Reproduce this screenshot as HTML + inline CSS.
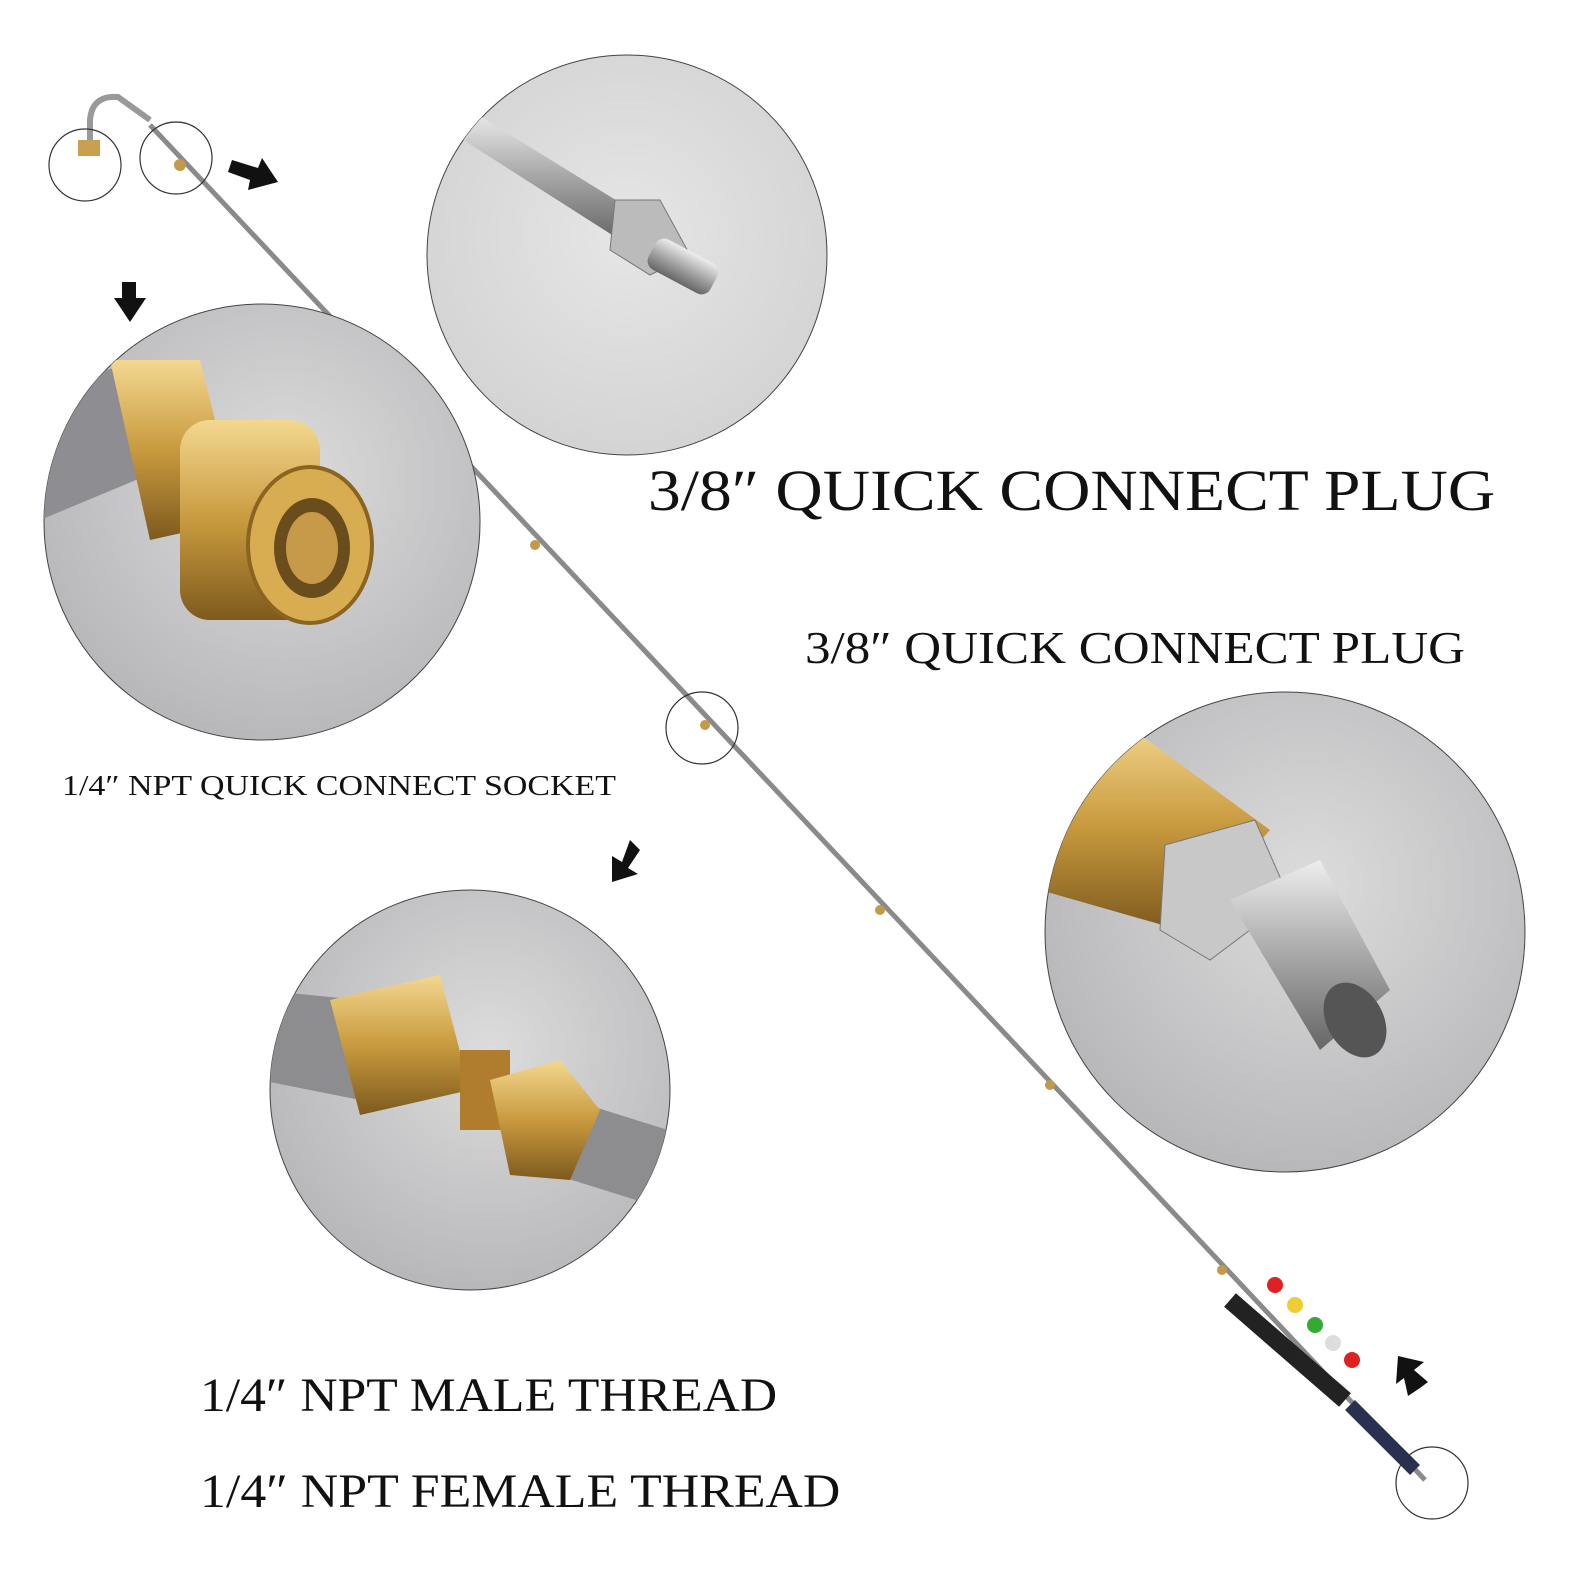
<!DOCTYPE html>
<html><head><meta charset="utf-8"><style>
html,body{margin:0;padding:0;background:#fff;}
body{width:1582px;height:1582px;position:relative;overflow:hidden;font-family:"Liberation Serif",serif;}
.t{position:absolute;white-space:nowrap;color:#111;line-height:1;transform-origin:0 0;}
</style></head><body>
<svg width="1582" height="1582" style="position:absolute;left:0;top:0">
<defs>
<radialGradient id="g1" cx="50%" cy="45%" r="60%"><stop offset="0" stop-color="#e6e6e6"/><stop offset="1" stop-color="#d2d2d2"/></radialGradient>
<radialGradient id="g2" cx="55%" cy="40%" r="60%"><stop offset="0" stop-color="#dcdcdc"/><stop offset="1" stop-color="#b8b8bb"/></radialGradient>
<linearGradient id="brass" x1="0" y1="0" x2="0" y2="1"><stop offset="0" stop-color="#f3d890"/><stop offset=".5" stop-color="#c99a3e"/><stop offset="1" stop-color="#7d5a1e"/></linearGradient>
<linearGradient id="steel" x1="0" y1="0" x2="0" y2="1"><stop offset="0" stop-color="#eee"/><stop offset=".5" stop-color="#a8a8a8"/><stop offset="1" stop-color="#666"/></linearGradient>
</defs>
<path d="M90 150 L90 120 Q92 95 118 97 L150 120" stroke="#999" stroke-width="6" fill="none"/>
<line x1="150" y1="125" x2="1425" y2="1480" stroke="#8a8a8a" stroke-width="5"/>
<rect x="78" y="140" width="22" height="16" fill="#c8a050"/>
<g fill="#c39a4a"><circle cx="180" cy="165" r="6"/><circle cx="535" cy="545" r="5"/><circle cx="705" cy="725" r="5"/><circle cx="880" cy="910" r="5"/><circle cx="1050" cy="1085" r="5"/><circle cx="1222" cy="1270" r="5"/></g>
<line x1="1230" y1="1300" x2="1345" y2="1400" stroke="#222" stroke-width="18"/>
<line x1="1350" y1="1405" x2="1415" y2="1470" stroke="#2a3050" stroke-width="14"/>
<circle cx="1275" cy="1285" r="8" fill="#d22"/><circle cx="1295" cy="1305" r="8" fill="#ec3"/><circle cx="1315" cy="1325" r="8" fill="#3a3"/><circle cx="1333" cy="1343" r="8" fill="#ddd"/><circle cx="1352" cy="1360" r="8" fill="#d22"/>
<g fill="none" stroke="#333" stroke-width="1.2">
<circle cx="85" cy="165" r="36"/><circle cx="176" cy="158" r="36"/><circle cx="702" cy="728" r="36"/><circle cx="1432" cy="1483" r="36"/></g>
<circle cx="627" cy="255" r="200" fill="url(#g1)" stroke="#444" stroke-width="1"/>
<clipPath id="c1"><circle cx="627" cy="255" r="200"/></clipPath>
<g clip-path="url(#c1)">
<polygon points="440,125 470,110 640,215 620,240" fill="url(#steel)"/>
<polygon points="615,200 660,200 690,255 650,275 610,250" fill="#bbb" stroke="#777"/>
<rect x="660" y="235" width="70" height="34" rx="10" transform="rotate(28 660 235)" fill="url(#steel)"/>
</g>
<circle cx="262" cy="522" r="218" fill="url(#g2)" stroke="#444" stroke-width="1"/>
<clipPath id="c2"><circle cx="262" cy="522" r="218"/></clipPath>
<g clip-path="url(#c2)">
<polygon points="40,390 140,360 160,470 40,520" fill="#8e8e92"/>
<polygon points="110,360 200,360 240,520 150,540" fill="url(#brass)"/>
<rect x="180" y="420" width="140" height="200" rx="30" fill="url(#brass)"/>
<ellipse cx="310" cy="545" rx="62" ry="78" fill="#d8ad52" stroke="#8a6420" stroke-width="4"/>
<ellipse cx="312" cy="548" rx="38" ry="50" fill="#6a4d1c"/>
<ellipse cx="312" cy="548" rx="26" ry="36" fill="#c69a48"/>
</g>
<circle cx="470" cy="1090" r="200" fill="url(#g2)" stroke="#444" stroke-width="1"/>
<clipPath id="c3"><circle cx="470" cy="1090" r="200"/></clipPath>
<g clip-path="url(#c3)">
<polygon points="260,990 360,1000 360,1100 260,1080" fill="#8d8d90"/>
<polygon points="540,1090 700,1140 700,1220 540,1170" fill="#8d8d90"/>
<polygon points="330,1000 440,975 470,1090 360,1115" fill="url(#brass)"/>
<rect x="460" y="1050" width="50" height="80" fill="#b07d2e"/>
<polygon points="490,1080 560,1060 600,1110 570,1180 510,1175" fill="url(#brass)"/>
</g>
<circle cx="1285" cy="932" r="240" fill="url(#g2)" stroke="#444" stroke-width="1"/>
<clipPath id="c4"><circle cx="1285" cy="932" r="240"/></clipPath>
<g clip-path="url(#c4)">
<polygon points="1020,780 1120,720 1270,830 1180,930 1040,890" fill="url(#brass)"/>
<polygon points="1165,845 1255,820 1290,900 1210,960 1160,930" fill="#c8c8c8" stroke="#777"/>
<polygon points="1230,900 1320,860 1390,990 1320,1050" fill="url(#steel)"/>
<ellipse cx="1355" cy="1020" rx="28" ry="40" transform="rotate(-30 1355 1020)" fill="#555"/>
</g>
<g fill="#111">
<polygon points="232,160 258,168 262,158 278,182 248,190 250,180 228,172" />
<polygon points="122,282 136,282 136,298 146,298 130,322 114,298 122,298"/>
<polygon points="640,850 630,840 622,862 612,856 612,882 638,874 628,868"/>
<polygon points="1420,1388 1408,1396 1404,1378 1396,1384 1398,1356 1424,1362 1414,1370 1428,1382"/>
</g>
</svg>
<div class="t" style="left:648px;top:462px;font-size:58px;transform:scaleX(1.13)">3/8″ QUICK CONNECT PLUG</div>
<div class="t" style="left:805px;top:625px;font-size:46px;transform:scaleX(1.11)">3/8″ QUICK CONNECT PLUG</div>
<div class="t" style="left:62px;top:772px;font-size:29px;transform:scaleX(1.17)">1/4″ NPT QUICK CONNECT SOCKET</div>
<div class="t" style="left:200px;top:1372px;font-size:48px;transform:scaleX(1.075)">1/4″ NPT MALE THREAD</div>
<div class="t" style="left:200px;top:1468px;font-size:48px;transform:scaleX(1.08)">1/4″ NPT FEMALE THREAD</div>
</body></html>
